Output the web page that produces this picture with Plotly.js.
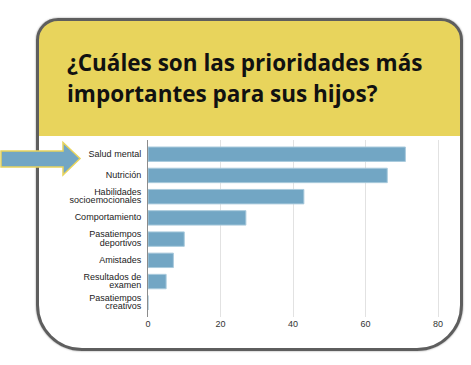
<!DOCTYPE html>
<html>
<head>
<meta charset="utf-8">
<script src="https://cdn.plot.ly/plotly-3.0.1.min.js"></script>
<style>
  html, body { margin: 0; padding: 0; background: #ffffff; }
  #wrap { position: relative; width: 471px; height: 365px; overflow: hidden; background: #fff; }
  #card {
    position: absolute; left: 36px; top: 18px; width: 427px; height: 333px;
    box-sizing: border-box; border: 3px solid #5e5e5e;
    border-radius: 22px 22px 46px 46px;
    background: linear-gradient(to bottom, #E8D45C 0px, #E8D45C 115px, #ffffff 115px, #ffffff 100%);
    box-shadow: 0 0 2px rgba(0,0,0,0.45);
  }
  #chart { position: absolute; left: 0; top: 0; width: 471px; height: 365px; }
  #arrow { position: absolute; left: 0; top: 0; width: 471px; height: 365px; pointer-events: none; }
</style>
</head>
<body>
<div id="wrap">
  <div id="card"></div>
  <div id="chart"></div>
  <svg id="arrow" width="471" height="365">
    <polygon points="1,151 63,151 63,142.5 80,158.5 63,175 63,167 1,167"
      fill="#72A6C4" stroke="#E8D45C" stroke-width="1.5" stroke-linejoin="miter"/>
  </svg>
</div>
<script>
var categories = [
  "Salud mental",
  "Nutrición",
  "Habilidades<br>socioemocionales",
  "Comportamiento",
  "Pasatiempos<br>deportivos",
  "Amistades",
  "Resultados de<br>examen",
  "Pasatiempos<br>creativos"
];
var values = [71, 66, 43, 27, 10, 7, 5, 0];
var xTicks = [0, 20, 40, 60, 80];
var titleLines = ["¿Cuáles son las prioridades más", "importantes para sus hijos?"];

function wrapLines(label, px) {
  return label.split("<br>").map(function (s) {
    return '<span style="font-size:' + px + 'px">' + s + '</span>';
  }).join("<br>");
}

var tickLabels = categories.map(function (c) { return wrapLines(c, 9); });

var trace = {
  type: "bar",
  orientation: "h",
  x: values,
  y: categories,
  marker: { color: "#72A6C4", line: { color: "#A9CADC", width: 1 } },
  hoverinfo: "x+y"
};

var layout = {
  width: 471, height: 365,
  margin: { l: 148, r: 26, t: 140, b: 48, pad: 0 },
  paper_bgcolor: "rgba(0,0,0,0)",
  plot_bgcolor: "rgba(0,0,0,0)",
  showlegend: false,
  bargap: 0.32,
  font: { family: "Liberation Sans, Arial, sans-serif", size: 9, color: "#222" },
  xaxis: {
    range: [0, 81.93],
    tickvals: xTicks,
    ticktext: xTicks.map(String),
    showgrid: true, gridcolor: "#e2e2e2", gridwidth: 1,
    zeroline: false, showline: false, ticks: "",
    tickfont: { size: 9, color: "#333" },
    fixedrange: true
  },
  yaxis: {
    type: "category",
    categoryorder: "array",
    categoryarray: categories,
    tickmode: "array",
    tickvals: categories,
    ticktext: tickLabels,
    range: [7.67, -0.67],
    showgrid: false, zeroline: false,
    showline: true, linecolor: "#8c8c8c", linewidth: 1.5,
    ticks: "", ticklabelstandoff: 4,
    tickfont: { size: 6.7, color: "#222" },
    fixedrange: true
  },
  annotations: [
    {
      text: wrapLines(titleLines.join("<br>"), 22.5),
      xref: "paper", yref: "paper",
      x: (65 - 148) / 297, y: (317 - 77.5) / 177,
      xanchor: "left", yanchor: "middle", align: "left", showarrow: false,
      font: { family: "Open Sans, sans-serif", size: 23.7, color: "#111", weight: 700 }
    }
  ]
};

Plotly.newPlot("chart", [trace], layout, { displayModeBar: false, staticPlot: true });
</script>
</body>
</html>
